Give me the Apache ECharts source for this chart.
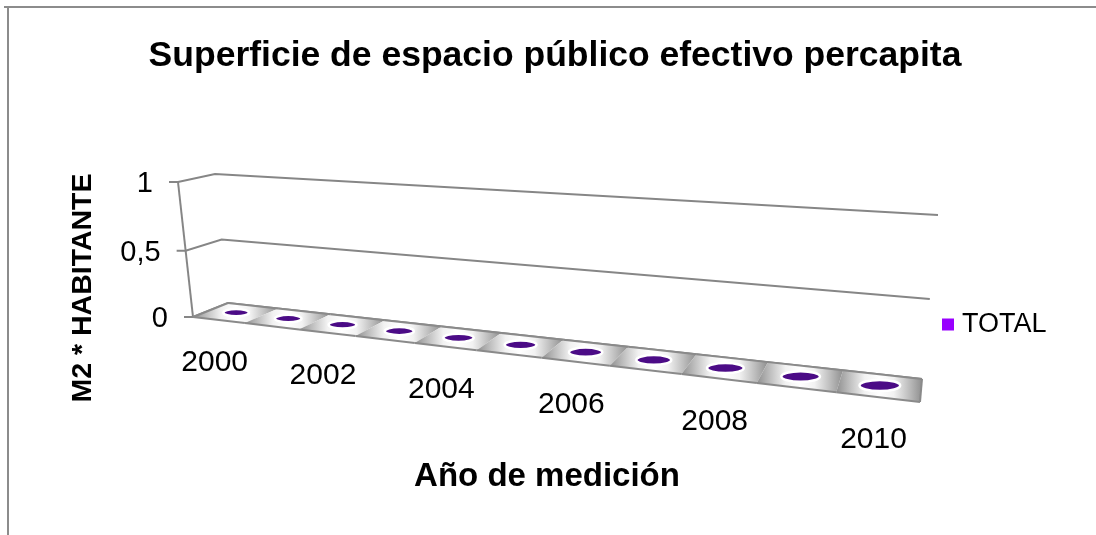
<!DOCTYPE html>
<html>
<head>
<meta charset="utf-8">
<title>Superficie de espacio público efectivo percapita</title>
<script src="https://cdn.jsdelivr.net/npm/echarts@6/dist/echarts.min.js"></script>
<style>
  html, body { margin: 0; padding: 0; background: #fff; }
  #chart { width: 1096px; height: 535px; }
</style>
</head>
<body>
<div id="chart"></div>
<script>
// datos
var years = ['2000', '2001', '2002', '2003', '2004', '2005', '2006', '2007', '2008', '2009', '2010'];
var totals = [0, 0, 0, 0, 0, 0, 0, 0, 0, 0, 0];
var valueTicks = [0, 0.5, 1];
var valueTickLabels = ['0', '0,5', '1'];

var FONT = '"Liberation Sans", Arial, sans-serif';

// esquinas de la caja 3d en pixeles (solo layout)
var frame = {
  floorFL: [193, 317], floorFR: [920, 402], floorBR: [922, 379], floorBL: [228, 303],
  topFL: [178, 182], topBR: [938, 217]
};

// homografia cuadrado unidad -> cuadrilatero
function squareToQuad(p0, p1, p2, p3) {
  var x0 = p0[0], y0 = p0[1], x1 = p1[0], y1 = p1[1];
  var x2 = p2[0], y2 = p2[1], x3 = p3[0], y3 = p3[1];
  var sx = x0 - x1 + x2 - x3, sy = y0 - y1 + y2 - y3;
  var dx1 = x1 - x2, dx2 = x3 - x2, dy1 = y1 - y2, dy2 = y3 - y2;
  var den = dx1 * dy2 - dx2 * dy1;
  var g = (sx * dy2 - dx2 * sy) / den;
  var h = (dx1 * sy - sx * dy1) / den;
  return {
    a: x1 - x0 + g * x1, b: x3 - x0 + h * x3, c: x0,
    d: y1 - y0 + g * y1, e: y3 - y0 + h * y3, f: y0,
    g: g, h: h
  };
}

var H = squareToQuad(frame.floorFL, frame.floorFR, frame.floorBR, frame.floorBL);
var cX = [H.a, H.d, H.g], cZ = [H.b, H.e, H.h], cO = [H.c, H.f, 1];
var S = [cX[0] + cZ[0] + cO[0], cX[1] + cZ[1] + cO[1], cX[2] + cZ[2] + cO[2]];
var g2 = (frame.topBR[0] * S[2] - S[0] - frame.topFL[0] + cO[0]) / (frame.topFL[0] - frame.topBR[0]);
var cY = [frame.topFL[0] * (1 + g2) - cO[0], frame.topFL[1] * (1 + g2) - cO[1], g2];

// X: categorias 0..1, Y: valor 0..1, Z: profundidad 0 (frente) .. 1 (fondo)
function project(X, Y, Z) {
  var w = cX[2] * X + cY[2] * Y + cZ[2] * Z + cO[2];
  return [
    (cX[0] * X + cY[0] * Y + cZ[0] * Z + cO[0]) / w,
    (cX[1] * X + cY[1] * Y + cZ[1] * Z + cO[1]) / w
  ];
}

function unitPoint(params, api, cat, val) {
  var cs = params.coordSys;
  var pt = api.coord([cat, val]);
  return [(pt[0] - cs.x) / cs.width, (cs.y + cs.height - pt[1]) / cs.height];
}

function renderGrid(params, api) {
  var u = unitPoint(params, api, 0, api.value(1));
  var Y = u[1];
  var fl = project(0, Y, 0), bl = project(0, Y, 1), br = project(1, Y, 1);
  var children = [
    {
      type: 'polyline',
      shape: { points: [[fl[0] - 9, fl[1]], fl, bl, br] },
      style: { stroke: '#868686', lineWidth: 2, fill: null }
    },
    {
      type: 'text', x: fl[0] - 25, y: fl[1] + 2,
      style: {
        text: valueTickLabels[params.dataIndex], fill: '#000',
        font: '29px ' + FONT, align: 'right', verticalAlign: 'middle'
      }
    }
  ];
  if (params.dataIndex === valueTicks.length - 1) {
    var base = unitPoint(params, api, 0, valueTicks[0]);
    var b0 = project(0, base[1], 0);
    children.push({
      type: 'line',
      shape: { x1: fl[0], y1: fl[1], x2: b0[0], y2: b0[1] },
      style: { stroke: '#868686', lineWidth: 2 }
    });
  }
  return { type: 'group', children: children };
}

function renderFloor(params, api) {
  var u = unitPoint(params, api, api.value(0), 0);
  var bw = api.size([1, 0])[0] / params.coordSys.width;
  var x0 = u[0] - bw / 2, x1 = u[0] + bw / 2;
  var p00 = project(x0, 0, 0), p10 = project(x1, 0, 0);
  var p11 = project(x1, 0, 1), p01 = project(x0, 0, 1);
  var edge = { stroke: '#8a8a8a', lineWidth: 2, fill: null };
  var children = [
    {
      type: 'polygon',
      shape: { points: [p00, p10, p11, p01] },
      style: {
        fill: new echarts.graphic.LinearGradient(0, 0, 1, 0, [
          { offset: 0, color: '#8f8f8f' },
          { offset: 0.15, color: '#bdbdbd' },
          { offset: 0.33, color: '#f2f2f2' },
          { offset: 0.5, color: '#ffffff' },
          { offset: 0.67, color: '#f2f2f2' },
          { offset: 0.85, color: '#bdbdbd' },
          { offset: 1, color: '#8f8f8f' }
        ])
      }
    },
    { type: 'polyline', z2: 10, shape: { points: [p00, p10] }, style: edge },
    { type: 'polyline', z2: 10, shape: { points: [p01, p11] }, style: edge }
  ];
  var i = params.dataIndex;
  if (i === 0) {
    children.push({ type: 'polyline', z2: 10, shape: { points: [p00, p01] }, style: edge });
  }
  if (i === years.length - 1) {
    children.push({ type: 'polyline', z2: 10, shape: { points: [p10, p11] }, style: edge });
  }
  if (i % 2 === 0) {
    var fc = project(u[0], 0, 0);
    children.push({
      type: 'text', x: fc[0] - 4, y: fc[1] + 43,
      style: {
        text: years[i], fill: '#000', font: '30px ' + FONT,
        align: 'center', verticalAlign: 'middle'
      }
    });
  }
  return { type: 'group', children: children };
}

function renderDisc(params, api) {
  var u = unitPoint(params, api, api.value(0), api.value(1));
  var bw = api.size([1, 0])[0] / params.coordSys.width;
  var rx = bw * 0.25, rz = 0.25;
  var c = project(u[0], u[1], 0.5);
  var l = project(u[0] - rx, u[1], 0.5), r = project(u[0] + rx, u[1], 0.5);
  var f = project(u[0], u[1], 0.5 - rz), b = project(u[0], u[1], 0.5 + rz);
  return {
    type: 'ellipse',
    shape: { cx: c[0], cy: c[1], rx: Math.abs(r[0] - l[0]) / 2, ry: Math.abs(f[1] - b[1]) / 2 },
    style: { fill: '#4b0b86', stroke: '#ffffff', lineWidth: 2.5 }
  };
}

var chart = echarts.init(document.getElementById('chart'));
chart.setOption({
  backgroundColor: '#fff',
  animation: false,
  grid: { left: 0, top: 0, width: 100, height: 100, show: false },
  xAxis: { type: 'category', data: years, show: false },
  yAxis: { type: 'value', min: 0, max: 1, interval: 0.5, show: false },
  legend: {
    data: [{ name: 'TOTAL', icon: 'rect', itemStyle: { color: '#9900ff' } }],
    left: 942, top: 311, padding: 0,
    itemWidth: 12, itemHeight: 12,
    selectedMode: false,
    textStyle: { fontSize: 27, fontFamily: FONT, color: '#000', padding: [0, 0, 0, 3] }
  },
  graphic: [
    { type: 'line', shape: { x1: 4, y1: 7, x2: 1096, y2: 7 }, style: { stroke: '#8c8c8c', lineWidth: 2 } },
    { type: 'line', shape: { x1: 8, y1: 7, x2: 8, y2: 535 }, style: { stroke: '#8c8c8c', lineWidth: 2 } },
    {
      type: 'text', x: 555, y: 56,
      style: {
        text: 'Superficie de espacio público efectivo percapita', fill: '#000',
        font: 'bold 35.5px ' + FONT, align: 'center', verticalAlign: 'middle'
      }
    },
    {
      type: 'text', x: 547, y: 477,
      style: {
        text: 'Año de medición', fill: '#000',
        font: 'bold 33px ' + FONT, align: 'center', verticalAlign: 'middle'
      }
    },
    {
      type: 'text', x: 83, y: 288, rotation: Math.PI / 2,
      style: {
        text: 'M2 * HABITANTE', fill: '#000',
        font: 'bold 28.5px ' + FONT, align: 'center', verticalAlign: 'middle'
      }
    }
  ],
  series: [
    {
      type: 'custom', name: 'grid3d', silent: true, z: 1,
      renderItem: renderGrid,
      encode: { x: 0, y: 1 },
      data: valueTicks.map(function (v) { return [0, v]; })
    },
    {
      type: 'custom', name: 'floor', silent: true, z: 2,
      renderItem: renderFloor,
      encode: { x: 0, y: 1 },
      data: years.map(function (y, i) { return [i, 0]; })
    },
    {
      type: 'custom', name: 'TOTAL', silent: true, z: 3,
      itemStyle: { color: '#9900ff' },
      renderItem: renderDisc,
      encode: { x: 0, y: 1 },
      data: totals.map(function (v, i) { return [i, v]; })
    }
  ]
});
</script>
</body>
</html>
